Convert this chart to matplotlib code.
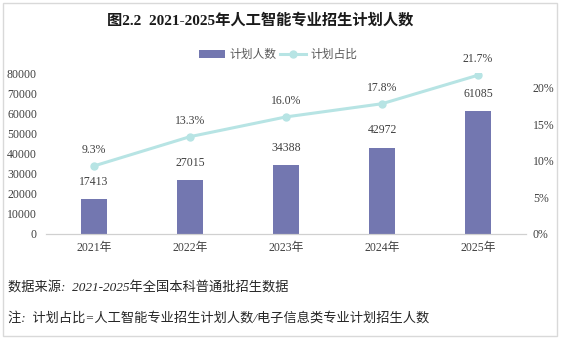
import numpy as np
import matplotlib.pyplot as plt
import matplotlib.ticker as mticker

# data
years = ["2021年", "2022年", "2023年", "2024年", "2025年"]
plan_counts = [17413, 27015, 34388, 42972, 61085]
plan_share = [0.093, 0.133, 0.160, 0.178, 0.217]

FONT = ["Liberation Serif", "Noto Sans CJK SC"]
plt.rcParams["font.family"] = FONT

BAR_C = "#7377b0"
LINE_C = "#b7e4e4"
TXT_C = "#404040"

fig = plt.figure(figsize=(5.61, 3.38), dpi=100)
ax = fig.add_axes([46 / 561, 1 - 234 / 338, 480 / 561, 161 / 338])
ax2 = ax.twinx()

x = np.arange(len(years))
bars = ax.bar(x, plan_counts, width=0.28, color=BAR_C, label="计划人数", zorder=2)
ax.set_xlim(-0.5, len(years) - 0.5)
ax.set_ylim(0, 80000)
ax.set_yticks(np.arange(0, 80001, 10000))
ax.set_xticks(x)
ax.set_xticklabels(years)

for xi, v in zip(x, plan_counts):
    ax.annotate(str(v), (xi, v), xytext=(0, 8), textcoords="offset points",
                ha="center", va="bottom", fontsize=8.5, color=TXT_C)

ln, = ax2.plot(x, plan_share, color=LINE_C, lw=2.2, marker="o", ms=5,
               label="计划占比", zorder=3)
ax2.set_ylim(0, 0.22)
ax2.set_yticks(np.arange(0, 0.21, 0.05))
ax2.yaxis.set_major_formatter(mticker.FuncFormatter(lambda v, p: f"{v * 100:.0f}%"))
for xi, v in zip(x, plan_share):
    ax2.annotate(f"{v * 100:.1f}%", (xi, v), xytext=(0, 7), textcoords="offset points",
                 ha="center", va="bottom", fontsize=8.5, color=TXT_C)

for a in (ax, ax2):
    for s in ("top", "left", "right"):
        a.spines[s].set_visible(False)
    a.spines["bottom"].set_color("#d0d0d0")
    a.tick_params(length=0, labelsize=8.5, labelcolor=TXT_C)
ax.tick_params(axis="x", pad=6)
ax.tick_params(axis="y", pad=6.5)
ax2.tick_params(axis="y", pad=5)

fig.legend(handles=[bars, ln], labels=["计划人数", "计划占比"], loc="center",
           bbox_to_anchor=(278 / 561, 1 - 55 / 338), ncol=2, frameon=False,
           fontsize=8.5, labelcolor="#595959", handlelength=2.2, handleheight=0.6,
           columnspacing=0.3, handletextpad=0.4)

fig.text(260 / 561, 1 - 20 / 338, "图2.2  2021-2025年人工智能专业招生计划人数",
         ha="center", va="center", fontsize=11, fontweight="bold", color="#1a1a1a")
fig.text(8 / 561, 1 - 287 / 338, "数据来源:  2021-2025年全国本科普通批招生数据",
         ha="left", va="center", fontsize=9.5, style="italic", color="#262626")
fig.text(8 / 561, 1 - 318 / 338, "注:  计划占比=人工智能专业招生计划人数/电子信息类专业计划招生人数",
         ha="left", va="center", fontsize=9.5, style="italic", color="#262626")

fig.patches.append(plt.Rectangle((3 / 561, 2 / 338), 554 / 561, 333 / 338,
                                 transform=fig.transFigure, fill=False,
                                 edgecolor="#d9d9d9", lw=1))

fig.savefig("out.png", dpi=100)
